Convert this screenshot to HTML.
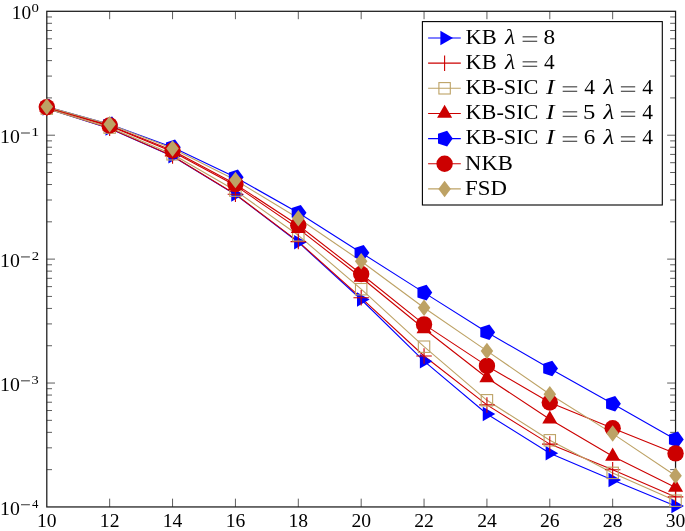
<!DOCTYPE html>
<html><head><meta charset="utf-8"><style>
html,body{margin:0;padding:0;background:#fff;overflow:hidden;}
svg{display:block;font-family:"Liberation Serif",serif;will-change:transform;}
</style></head><body>
<svg width="685" height="531" viewBox="0 0 685 531">
<rect width="685" height="531" fill="#fff"/>
<path d="M109.67 506.95V498.65M109.67 11.30V19.20M172.55 506.95V498.65M172.55 11.30V19.20M235.43 506.95V498.65M235.43 11.30V19.20M298.30 506.95V498.65M298.30 11.30V19.20M361.18 506.95V498.65M361.18 11.30V19.20M424.05 506.95V498.65M424.05 11.30V19.20M486.93 506.95V498.65M486.93 11.30V19.20M549.80 506.95V498.65M549.80 11.30V19.20M612.67 506.95V498.65M612.67 11.30V19.20M46.80 135.21H55.00M675.55 135.21H667.15M46.80 259.12H55.00M675.55 259.12H667.15M46.80 383.04H55.00M675.55 383.04H667.15M46.80 97.91H52.00M675.55 97.91H670.15M46.80 76.09H52.00M675.55 76.09H670.15M46.80 60.61H52.00M675.55 60.61H670.15M46.80 48.60H52.00M675.55 48.60H670.15M46.80 38.79H52.00M675.55 38.79H670.15M46.80 30.49H52.00M675.55 30.49H670.15M46.80 23.31H52.00M675.55 23.31H670.15M46.80 16.97H52.00M675.55 16.97H670.15M46.80 221.82H52.00M675.55 221.82H670.15M46.80 200.00H52.00M675.55 200.00H670.15M46.80 184.52H52.00M675.55 184.52H670.15M46.80 172.51H52.00M675.55 172.51H670.15M46.80 162.70H52.00M675.55 162.70H670.15M46.80 154.41H52.00M675.55 154.41H670.15M46.80 147.22H52.00M675.55 147.22H670.15M46.80 140.88H52.00M675.55 140.88H670.15M46.80 345.74H52.00M675.55 345.74H670.15M46.80 323.92H52.00M675.55 323.92H670.15M46.80 308.43H52.00M675.55 308.43H670.15M46.80 296.43H52.00M675.55 296.43H670.15M46.80 286.61H52.00M675.55 286.61H670.15M46.80 278.32H52.00M675.55 278.32H670.15M46.80 271.13H52.00M675.55 271.13H670.15M46.80 264.79H52.00M675.55 264.79H670.15M46.80 469.65H52.00M675.55 469.65H670.15M46.80 447.83H52.00M675.55 447.83H670.15M46.80 432.35H52.00M675.55 432.35H670.15M46.80 420.34H52.00M675.55 420.34H670.15M46.80 410.53H52.00M675.55 410.53H670.15M46.80 402.23H52.00M675.55 402.23H670.15M46.80 395.05H52.00M675.55 395.05H670.15M46.80 388.71H52.00M675.55 388.71H670.15" stroke="#000" stroke-width="0.8" fill="none" opacity="0.8"/>
<rect x="46.80" y="11.30" width="628.75" height="495.65" fill="none" stroke="#1a1a1a" stroke-width="1.25"/>
<path d="M46.80 108.40 L109.67 128.40 L172.55 156.30 L235.43 194.60 L298.30 242.20 L361.18 299.50 L424.05 361.20 L486.93 414.00 L549.80 453.30 L612.67 479.90 L675.55 506.10" stroke="#0000ff" stroke-width="1.1" fill="none" stroke-linejoin="round"/>
<path d="M46.80 108.30 L109.67 128.30 L172.55 156.00 L235.43 194.20 L298.30 241.60 L361.18 297.80 L424.05 356.00 L486.93 404.90 L549.80 444.10 L612.67 469.80 L675.55 496.90" stroke="#cc0000" stroke-width="1.1" fill="none" stroke-linejoin="round"/>
<path d="M46.80 108.60 L109.67 127.60 L172.55 154.30 L235.43 190.60 L298.30 235.30 L361.18 289.20 L424.05 346.70 L486.93 400.30 L549.80 440.30 L612.67 472.90 L675.55 500.70" stroke="#bda265" stroke-width="1.1" fill="none" stroke-linejoin="round"/>
<path d="M46.80 107.30 L109.67 126.10 L172.55 151.70 L235.43 185.60 L298.30 228.60 L361.18 277.50 L424.05 328.80 L486.93 377.80 L549.80 419.20 L612.67 456.30 L675.55 487.50" stroke="#cc0000" stroke-width="1.1" fill="none" stroke-linejoin="round"/>
<path d="M46.80 106.80 L109.67 124.30 L172.55 147.30 L235.43 177.30 L298.30 212.70 L361.18 252.70 L424.05 292.60 L486.93 332.20 L549.80 368.50 L612.67 403.70 L675.55 439.40" stroke="#0000ff" stroke-width="1.1" fill="none" stroke-linejoin="round"/>
<path d="M46.80 107.10 L109.67 125.40 L172.55 150.50 L235.43 184.10 L298.30 225.30 L361.18 274.00 L424.05 324.40 L486.93 365.90 L549.80 402.50 L612.67 428.30 L675.55 453.40" stroke="#cc0000" stroke-width="1.1" fill="none" stroke-linejoin="round"/>
<path d="M46.80 106.80 L109.67 124.30 L172.55 148.40 L235.43 180.10 L298.30 218.30 L361.18 261.20 L424.05 307.70 L486.93 350.90 L549.80 394.20 L612.67 433.60 L675.55 475.80" stroke="#bda265" stroke-width="1.1" fill="none" stroke-linejoin="round"/>
<polygon points="55.20,108.40 42.60,101.13 42.60,115.67" fill="#0000ff"/>
<polygon points="118.08,128.40 105.47,121.13 105.47,135.67" fill="#0000ff"/>
<polygon points="180.95,156.30 168.35,149.03 168.35,163.57" fill="#0000ff"/>
<polygon points="243.83,194.60 231.23,187.33 231.23,201.87" fill="#0000ff"/>
<polygon points="306.70,242.20 294.10,234.93 294.10,249.47" fill="#0000ff"/>
<polygon points="369.57,299.50 356.98,292.23 356.98,306.77" fill="#0000ff"/>
<polygon points="432.45,361.20 419.85,353.93 419.85,368.47" fill="#0000ff"/>
<polygon points="495.32,414.00 482.73,406.73 482.73,421.27" fill="#0000ff"/>
<polygon points="558.20,453.30 545.60,446.03 545.60,460.57" fill="#0000ff"/>
<polygon points="621.07,479.90 608.47,472.63 608.47,487.17" fill="#0000ff"/>
<polygon points="683.95,506.10 671.35,498.83 671.35,513.37" fill="#0000ff"/>
<path d="M39.05 108.30H54.55M46.80 100.55V116.05" stroke="#cc0000" stroke-width="1.1" fill="none"/>
<path d="M101.92 128.30H117.42M109.67 120.55V136.05" stroke="#cc0000" stroke-width="1.1" fill="none"/>
<path d="M164.80 156.00H180.30M172.55 148.25V163.75" stroke="#cc0000" stroke-width="1.1" fill="none"/>
<path d="M227.68 194.20H243.18M235.43 186.45V201.95" stroke="#cc0000" stroke-width="1.1" fill="none"/>
<path d="M290.55 241.60H306.05M298.30 233.85V249.35" stroke="#cc0000" stroke-width="1.1" fill="none"/>
<path d="M353.43 297.80H368.93M361.18 290.05V305.55" stroke="#cc0000" stroke-width="1.1" fill="none"/>
<path d="M416.30 356.00H431.80M424.05 348.25V363.75" stroke="#cc0000" stroke-width="1.1" fill="none"/>
<path d="M479.18 404.90H494.68M486.93 397.15V412.65" stroke="#cc0000" stroke-width="1.1" fill="none"/>
<path d="M542.05 444.10H557.55M549.80 436.35V451.85" stroke="#cc0000" stroke-width="1.1" fill="none"/>
<path d="M604.92 469.80H620.42M612.67 462.05V477.55" stroke="#cc0000" stroke-width="1.1" fill="none"/>
<path d="M667.80 496.90H683.30M675.55 489.15V504.65" stroke="#cc0000" stroke-width="1.1" fill="none"/>
<rect x="41.10" y="102.90" width="11.40" height="11.40" stroke="#bda265" stroke-width="1.1" fill="none"/>
<rect x="103.97" y="121.90" width="11.40" height="11.40" stroke="#bda265" stroke-width="1.1" fill="none"/>
<rect x="166.85" y="148.60" width="11.40" height="11.40" stroke="#bda265" stroke-width="1.1" fill="none"/>
<rect x="229.73" y="184.90" width="11.40" height="11.40" stroke="#bda265" stroke-width="1.1" fill="none"/>
<rect x="292.60" y="229.60" width="11.40" height="11.40" stroke="#bda265" stroke-width="1.1" fill="none"/>
<rect x="355.48" y="283.50" width="11.40" height="11.40" stroke="#bda265" stroke-width="1.1" fill="none"/>
<rect x="418.35" y="341.00" width="11.40" height="11.40" stroke="#bda265" stroke-width="1.1" fill="none"/>
<rect x="481.23" y="394.60" width="11.40" height="11.40" stroke="#bda265" stroke-width="1.1" fill="none"/>
<rect x="544.10" y="434.60" width="11.40" height="11.40" stroke="#bda265" stroke-width="1.1" fill="none"/>
<rect x="606.97" y="467.20" width="11.40" height="11.40" stroke="#bda265" stroke-width="1.1" fill="none"/>
<rect x="669.85" y="495.00" width="11.40" height="11.40" stroke="#bda265" stroke-width="1.1" fill="none"/>
<polygon points="46.80,98.60 39.27,111.65 54.33,111.65" fill="#cc0000"/>
<polygon points="109.67,117.40 102.14,130.45 117.21,130.45" fill="#cc0000"/>
<polygon points="172.55,143.00 165.02,156.05 180.08,156.05" fill="#cc0000"/>
<polygon points="235.43,176.90 227.89,189.95 242.96,189.95" fill="#cc0000"/>
<polygon points="298.30,219.90 290.77,232.95 305.83,232.95" fill="#cc0000"/>
<polygon points="361.18,268.80 353.64,281.85 368.71,281.85" fill="#cc0000"/>
<polygon points="424.05,320.10 416.52,333.15 431.58,333.15" fill="#cc0000"/>
<polygon points="486.93,369.10 479.39,382.15 494.46,382.15" fill="#cc0000"/>
<polygon points="549.80,410.50 542.27,423.55 557.33,423.55" fill="#cc0000"/>
<polygon points="612.67,447.60 605.14,460.65 620.21,460.65" fill="#cc0000"/>
<polygon points="675.55,478.80 668.02,491.85 683.08,491.85" fill="#cc0000"/>
<polygon points="55.00,106.80 49.33,99.00 40.17,101.98 40.17,111.62 49.33,114.60" fill="#0000ff"/>
<polygon points="117.88,124.30 112.21,116.50 103.04,119.48 103.04,129.12 112.21,132.10" fill="#0000ff"/>
<polygon points="180.75,147.30 175.08,139.50 165.92,142.48 165.92,152.12 175.08,155.10" fill="#0000ff"/>
<polygon points="243.62,177.30 237.96,169.50 228.79,172.48 228.79,182.12 237.96,185.10" fill="#0000ff"/>
<polygon points="306.50,212.70 300.83,204.90 291.67,207.88 291.67,217.52 300.83,220.50" fill="#0000ff"/>
<polygon points="369.38,252.70 363.71,244.90 354.54,247.88 354.54,257.52 363.71,260.50" fill="#0000ff"/>
<polygon points="432.25,292.60 426.58,284.80 417.42,287.78 417.42,297.42 426.58,300.40" fill="#0000ff"/>
<polygon points="495.12,332.20 489.46,324.40 480.29,327.38 480.29,337.02 489.46,340.00" fill="#0000ff"/>
<polygon points="558.00,368.50 552.33,360.70 543.17,363.68 543.17,373.32 552.33,376.30" fill="#0000ff"/>
<polygon points="620.88,403.70 615.21,395.90 606.04,398.88 606.04,408.52 615.21,411.50" fill="#0000ff"/>
<polygon points="683.75,439.40 678.08,431.60 668.92,434.58 668.92,444.22 678.08,447.20" fill="#0000ff"/>
<circle cx="46.80" cy="107.10" r="8.2" fill="#cc0000"/>
<circle cx="109.67" cy="125.40" r="8.2" fill="#cc0000"/>
<circle cx="172.55" cy="150.50" r="8.2" fill="#cc0000"/>
<circle cx="235.43" cy="184.10" r="8.2" fill="#cc0000"/>
<circle cx="298.30" cy="225.30" r="8.2" fill="#cc0000"/>
<circle cx="361.18" cy="274.00" r="8.2" fill="#cc0000"/>
<circle cx="424.05" cy="324.40" r="8.2" fill="#cc0000"/>
<circle cx="486.93" cy="365.90" r="8.2" fill="#cc0000"/>
<circle cx="549.80" cy="402.50" r="8.2" fill="#cc0000"/>
<circle cx="612.67" cy="428.30" r="8.2" fill="#cc0000"/>
<circle cx="675.55" cy="453.40" r="8.2" fill="#cc0000"/>
<polygon points="46.80,98.55 53.07,106.80 46.80,115.05 40.53,106.80" fill="#bda265"/>
<polygon points="109.67,116.05 115.94,124.30 109.67,132.55 103.41,124.30" fill="#bda265"/>
<polygon points="172.55,140.15 178.82,148.40 172.55,156.65 166.28,148.40" fill="#bda265"/>
<polygon points="235.43,171.85 241.70,180.10 235.43,188.35 229.16,180.10" fill="#bda265"/>
<polygon points="298.30,210.05 304.57,218.30 298.30,226.55 292.03,218.30" fill="#bda265"/>
<polygon points="361.18,252.95 367.44,261.20 361.18,269.45 354.91,261.20" fill="#bda265"/>
<polygon points="424.05,299.45 430.32,307.70 424.05,315.95 417.78,307.70" fill="#bda265"/>
<polygon points="486.93,342.65 493.19,350.90 486.93,359.15 480.66,350.90" fill="#bda265"/>
<polygon points="549.80,385.95 556.07,394.20 549.80,402.45 543.53,394.20" fill="#bda265"/>
<polygon points="612.67,425.35 618.94,433.60 612.67,441.85 606.40,433.60" fill="#bda265"/>
<polygon points="675.55,467.55 681.82,475.80 675.55,484.05 669.28,475.80" fill="#bda265"/>
<rect x="422.40" y="21.60" width="239.90" height="183.40" fill="#fff" stroke="#000" stroke-width="1.1"/>
<path d="M428.1 38.00H460.8" stroke="#0000ff" stroke-width="1.1" fill="none"/>
<polygon points="453.00,38.00 440.40,30.73 440.40,45.27" fill="#0000ff"/>
<path d="M428.1 63.15H460.8" stroke="#cc0000" stroke-width="1.1" fill="none"/>
<path d="M444.6 55.40V70.90" stroke="#cc0000" stroke-width="1.1" fill="none"/>
<path d="M428.1 88.30H460.8" stroke="#bda265" stroke-width="1.1" fill="none"/>
<rect x="438.90" y="82.60" width="11.40" height="11.40" stroke="#bda265" stroke-width="1.1" fill="none"/>
<path d="M428.1 113.45H460.8" stroke="#cc0000" stroke-width="1.1" fill="none"/>
<polygon points="444.60,104.75 437.07,117.80 452.13,117.80" fill="#cc0000"/>
<path d="M428.1 138.60H460.8" stroke="#0000ff" stroke-width="1.1" fill="none"/>
<polygon points="452.80,138.60 447.13,130.80 437.97,133.78 437.97,143.42 447.13,146.40" fill="#0000ff"/>
<path d="M428.1 163.75H460.8" stroke="#cc0000" stroke-width="1.1" fill="none"/>
<circle cx="444.60" cy="163.75" r="8.2" fill="#cc0000"/>
<path d="M428.1 188.90H460.8" stroke="#bda265" stroke-width="1.1" fill="none"/>
<polygon points="444.60,180.65 450.87,188.90 444.60,197.15 438.33,188.90" fill="#bda265"/>
<text transform="translate(465.42,44.00) scale(1.1039,1)" font-size="20.40">KB</text>
<text transform="translate(505.07,44.00) scale(1.1628,1)" font-size="20.40" font-style="italic">λ</text>
<path d="M522.60 36.85H537.20" stroke="#000" stroke-width="0.85"/><path d="M522.60 41.25H537.20" stroke="#000" stroke-width="0.85"/>
<text transform="translate(543.57,44.00) scale(1.1438,1)" font-size="20.40">8</text>
<text transform="translate(465.42,69.00) scale(1.1039,1)" font-size="20.40">KB</text>
<text transform="translate(505.07,69.00) scale(1.1628,1)" font-size="20.40" font-style="italic">λ</text>
<path d="M522.60 61.85H537.20" stroke="#000" stroke-width="0.85"/><path d="M522.60 66.25H537.20" stroke="#000" stroke-width="0.85"/>
<text transform="translate(544.07,69.00) scale(1.0443,1)" font-size="20.40">4</text>
<text transform="translate(465.43,94.00) scale(1.0926,1)" font-size="20.40">KB-SIC</text>
<text transform="translate(545.90,94.00) scale(1.2586,1)" font-size="20.40" font-style="italic">I</text>
<path d="M562.70 86.85H577.20" stroke="#000" stroke-width="0.85"/><path d="M562.70 91.25H577.20" stroke="#000" stroke-width="0.85"/>
<text transform="translate(584.17,94.00) scale(1.0550,1)" font-size="20.40">4</text>
<text transform="translate(603.50,94.00) scale(1.2198,1)" font-size="20.40" font-style="italic">λ</text>
<path d="M620.90 86.85H635.20" stroke="#000" stroke-width="0.85"/><path d="M620.90 91.25H635.20" stroke="#000" stroke-width="0.85"/>
<text transform="translate(642.27,94.00) scale(1.0550,1)" font-size="20.40">4</text>
<text transform="translate(465.43,119.00) scale(1.0926,1)" font-size="20.40">KB-SIC</text>
<text transform="translate(545.90,119.00) scale(1.2586,1)" font-size="20.40" font-style="italic">I</text>
<path d="M562.70 111.85H577.20" stroke="#000" stroke-width="0.85"/><path d="M562.70 116.25H577.20" stroke="#000" stroke-width="0.85"/>
<text transform="translate(583.12,119.00) scale(1.2132,1)" font-size="20.40">5</text>
<text transform="translate(603.50,119.00) scale(1.2198,1)" font-size="20.40" font-style="italic">λ</text>
<path d="M620.90 111.85H635.20" stroke="#000" stroke-width="0.85"/><path d="M620.90 116.25H635.20" stroke="#000" stroke-width="0.85"/>
<text transform="translate(642.27,119.00) scale(1.0550,1)" font-size="20.40">4</text>
<text transform="translate(465.43,144.00) scale(1.0926,1)" font-size="20.40">KB-SIC</text>
<text transform="translate(545.90,144.00) scale(1.2586,1)" font-size="20.40" font-style="italic">I</text>
<path d="M562.70 136.85H577.20" stroke="#000" stroke-width="0.85"/><path d="M562.70 141.25H577.20" stroke="#000" stroke-width="0.85"/>
<text transform="translate(583.68,144.00) scale(1.1286,1)" font-size="20.40">6</text>
<text transform="translate(603.50,144.00) scale(1.2198,1)" font-size="20.40" font-style="italic">λ</text>
<path d="M620.90 136.85H635.20" stroke="#000" stroke-width="0.85"/><path d="M620.90 141.25H635.20" stroke="#000" stroke-width="0.85"/>
<text transform="translate(642.27,144.00) scale(1.0550,1)" font-size="20.40">4</text>
<text transform="translate(465.12,170.00) scale(1.1108,1)" font-size="20.40">NKB</text>
<text transform="translate(465.11,195.00) scale(1.1197,1)" font-size="20.40">FSD</text>
<text x="46.80" y="527" font-size="19.6" text-anchor="middle">10</text>
<text x="109.67" y="527" font-size="19.6" text-anchor="middle">12</text>
<text x="172.55" y="527" font-size="19.6" text-anchor="middle">14</text>
<text x="235.43" y="527" font-size="19.6" text-anchor="middle">16</text>
<text x="298.30" y="527" font-size="19.6" text-anchor="middle">18</text>
<text x="361.18" y="527" font-size="19.6" text-anchor="middle">20</text>
<text x="424.05" y="527" font-size="19.6" text-anchor="middle">22</text>
<text x="486.93" y="527" font-size="19.6" text-anchor="middle">24</text>
<text x="549.80" y="527" font-size="19.6" text-anchor="middle">26</text>
<text x="612.67" y="527" font-size="19.6" text-anchor="middle">28</text>
<text x="675.55" y="527" font-size="19.6" text-anchor="middle">30</text>
<text transform="translate(11.76,19.00) scale(0.9852,1)" font-size="19.60">10</text>
<text transform="translate(31.51,12.00) scale(1.0935,1)" font-size="13.50">0</text>
<text transform="translate(0.06,143.00) scale(1.0093,1)" font-size="19.60">10</text>
<path d="M21.00 133.01H29.90" stroke="#000" stroke-width="0.8"/>
<text transform="translate(31.16,136.00) scale(1.1852,1)" font-size="13.50">1</text>
<text transform="translate(0.06,267.00) scale(1.0093,1)" font-size="19.60">10</text>
<path d="M21.00 256.93H29.90" stroke="#000" stroke-width="0.8"/>
<text transform="translate(31.71,260.00) scale(1.0926,1)" font-size="13.50">2</text>
<text transform="translate(0.06,391.00) scale(1.0093,1)" font-size="19.60">10</text>
<path d="M21.00 380.84H29.90" stroke="#000" stroke-width="0.8"/>
<text transform="translate(31.58,384.00) scale(1.0659,1)" font-size="13.50">3</text>
<text transform="translate(0.06,515.00) scale(1.0093,1)" font-size="19.60">10</text>
<path d="M21.00 504.75H29.90" stroke="#000" stroke-width="0.8"/>
<text transform="translate(32.04,508.00) scale(0.9501,1)" font-size="13.50">4</text>
</svg>
</body></html>
